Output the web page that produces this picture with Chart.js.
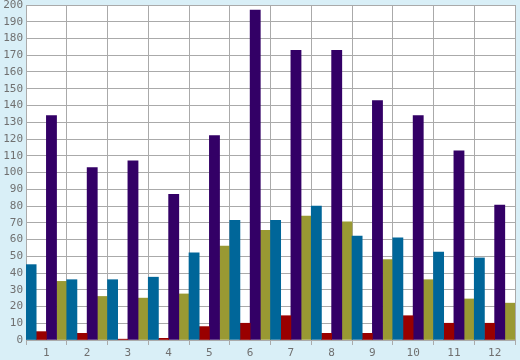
<!DOCTYPE html>
<html>
<head>
<meta charset="utf-8">
<script src="https://cdn.jsdelivr.net/npm/chart.js@4.4.1/dist/chart.umd.min.js"></script>
<style>
html,body{margin:0;padding:0;background:#d9eff7;}
#wrap{width:520px;height:360px;}
</style>
</head>
<body>
<div id="wrap"><canvas id="c" width="520" height="360"></canvas></div>
<script>
const categories = ['1','2','3','4','5','6','7','8','9','10','11','12'];
const seriesBlue   = [45, 36, 36, 37.5, 52, 71.5, 71.5, 80, 62, 61, 52.5, 49];
const seriesRed    = [5, 4, 0.5, 1, 8, 10, 14.5, 4, 4, 14.5, 10, 10];
const seriesPurple = [134, 103, 107, 87, 122, 197, 173, 173, 143, 134, 113, 80.5];
const seriesOlive  = [35, 26, 25, 27.5, 56, 65.5, 74, 70.5, 48, 36, 24.5, 22];
const yMin = 0, yMax = 200, yStep = 10;

const bgPlugin = {
  id: 'bg',
  beforeDraw(chart) {
    const ctx = chart.ctx, a = chart.chartArea;
    ctx.save();
    ctx.fillStyle = '#d9eff7';
    ctx.fillRect(0, 0, chart.width, chart.height);
    ctx.fillStyle = '#ffffff';
    ctx.fillRect(a.left, a.top, a.right - a.left, a.bottom - a.top);
    ctx.restore();
  }
};

const font = { family: 'DejaVu Sans Mono', size: 11, lineHeight: 0.2 };

new Chart(document.getElementById('c'), {
  type: 'bar',
  data: {
    labels: categories,
    datasets: [
      { data: seriesBlue, backgroundColor: '#006699' },
      { data: seriesRed, backgroundColor: '#990000' },
      { data: seriesPurple, backgroundColor: '#330066' },
      { data: seriesOlive, backgroundColor: '#999933' }
    ]
  },
  options: {
    responsive: false,
    animation: false,
    devicePixelRatio: 1,
    layout: { padding: { left: 0, right: 5, top: 5, bottom: 0 } },
    datasets: { bar: { categoryPercentage: 1, barPercentage: 1, borderWidth: 0 } },
    plugins: { legend: { display: false }, tooltip: { enabled: false } },
    scales: {
      x: {
        offset: true,
        grid: { color: '#aaaaaa', lineWidth: 1, drawTicks: true, tickLength: 5, offset: true },
        border: { color: '#aaaaaa' },
        ticks: { color: '#707070', font: { family: 'DejaVu Sans Mono', size: 11 }, padding: 2, maxRotation: 0 },
        afterFit(s) { s.height = 20; }
      },
      y: {
        min: yMin, max: yMax,
        grid: { color: '#aaaaaa', lineWidth: 1, drawTicks: false },
        border: { color: '#aaaaaa' },
        ticks: { stepSize: yStep, color: '#707070', font: font, padding: 3 },
        afterFit(s) { s.width = 26; }
      }
    }
  },
  plugins: [bgPlugin]
});
</script>
</body>
</html>
